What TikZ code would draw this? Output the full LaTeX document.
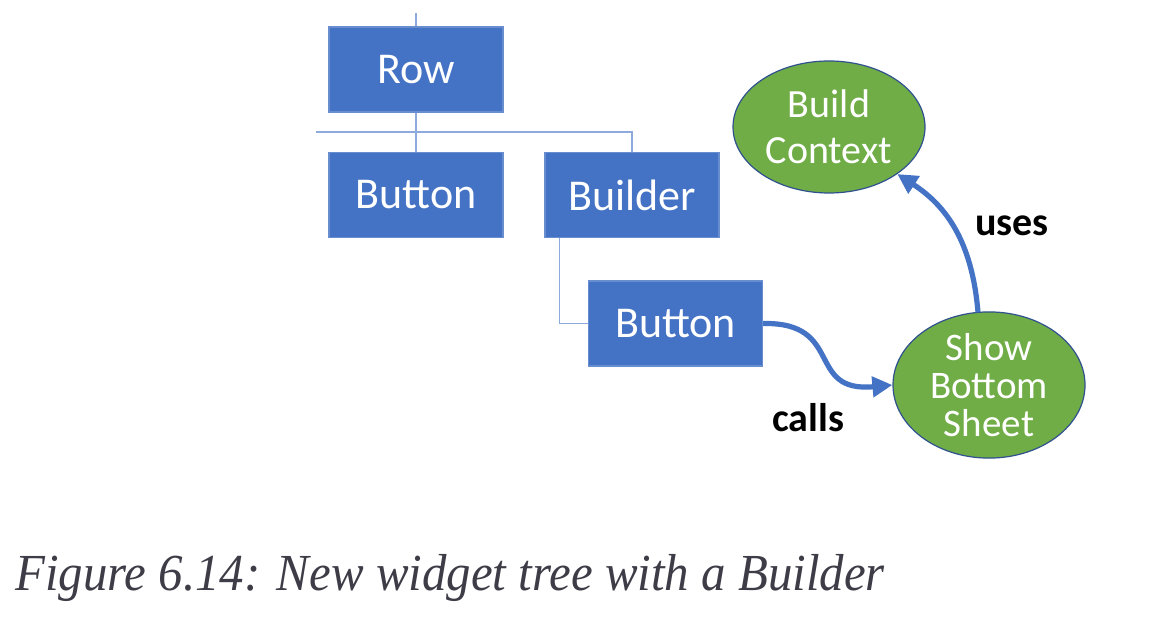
\documentclass[tikz,border=0pt]{standalone}
\usepackage{fontspec}
\setmainfont{Liberation Serif}
\setsansfont{Carlito}
\usetikzlibrary{shapes.geometric,arrows.meta}
\definecolor{boxblue}{HTML}{4472C4}
\definecolor{treeline}{HTML}{8EA9DB}
\definecolor{leafgreen}{HTML}{70AD47}
\definecolor{rimblue}{HTML}{2F528F}
\definecolor{captiongray}{HTML}{3D3C47}

\begin{document}
\begin{tikzpicture}[
        x=0.5pt, y=-0.5pt, % one unit = one pixel of the reference
        widget/.style={rectangle, fill=boxblue, draw=boxblue!80!white, line width=0.6pt,
            minimum width=87pt, minimum height=42.5pt, inner sep=0pt,
            text=white, font=\sffamily\fontsize{22}{26}\selectfont},
        oval/.style={ellipse, fill=leafgreen, draw=rimblue, line width=0.6pt,
            minimum width=96pt, minimum height=66pt, inner sep=0pt, align=center,
            text=white},
        branch/.style={draw=treeline, line width=0.8pt},
        flow/.style={draw=boxblue, line width=2.6pt, -{Triangle[length=10pt,width=10pt]}},
        verb/.style={font=\sffamily\bfseries\fontsize{20}{24}\selectfont, text=black},
    ]
    \fill[white] (0,0) rectangle (1150,624);

    % widget tree
    \node[widget] (row)     at (416,69.5) {Row};
    \node[widget] (button)  at (416,195)  {Button};
    \node[widget] (builder) at (632,195)  {Builder};
    \node[widget] (inner)   at (675.5,323.5) {Button};

    \coordinate (busL) at (316,132);
    \draw[branch] (row.north) -- ++(0,-13);
    \draw[branch] (row.south) -- (button.north);
    \draw[branch] (busL) -- (busL -| builder.north) -- (builder.north);
    \draw[branch] ([xshift=7.5pt]builder.south west) |- (inner.west);

    % functions
    \node[oval, font=\sffamily\fontsize{20}{23}\selectfont] (context) at (829,127) {Build\\Context};
    \node[oval, font=\sffamily\fontsize{19.5}{19}\selectfont] (sheet) at (989,385) {Show\\Bottom\\Sheet};

    \draw[flow] (inner.east) .. controls (845,322) and (805,393) .. (sheet.west);
    \draw[flow] (sheet.north) ++(-11,1) .. controls (972,240) and (945,205) .. (context.south east);

    \node[verb] (calls) at (808,418) {calls};
    \node[verb] (uses)  at (1012,226) {uses};

    % caption
    \node[anchor=base west, inner sep=0pt, text=captiongray,
        font=\itshape\fontsize{26}{30}\selectfont] (caption) at (15,590)
        {\scalebox{0.94}[1]{Figure 6.14: New widget tree with a Builder}};
\end{tikzpicture}
\end{document}
